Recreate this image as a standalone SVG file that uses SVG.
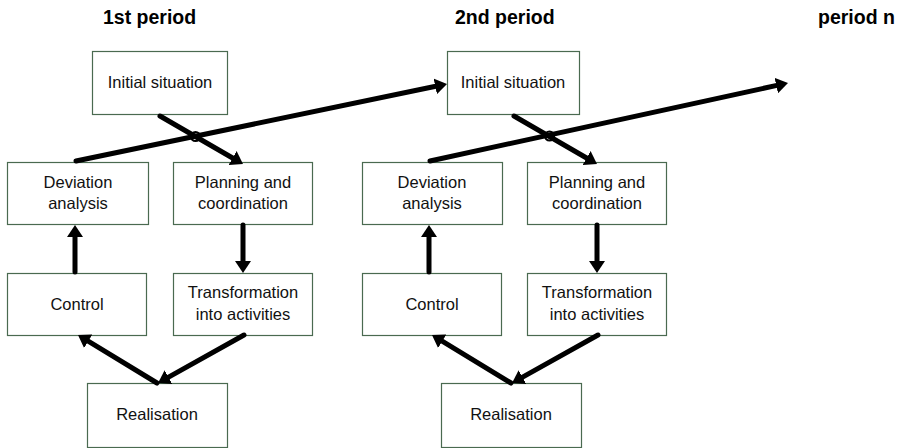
<svg xmlns="http://www.w3.org/2000/svg" width="903" height="448" viewBox="0 0 903 448">
<style>
.box{fill:#ffffff;stroke:#4a6a50;stroke-width:1.2}
.t{font-family:"Liberation Sans",Arial,sans-serif;font-size:16.5px;fill:#111;text-anchor:middle}
.h{font-family:"Liberation Sans",Arial,sans-serif;font-size:19.5px;font-weight:bold;fill:#000}
.a{stroke:#000;stroke-width:5;fill:none;stroke-linecap:round;marker-end:url(#ah)}
.j{stroke:#000;stroke-width:2.2;fill:none}
</style>
<defs>
<marker id="ah" markerUnits="userSpaceOnUse" markerWidth="12" markerHeight="16" refX="3" refY="8" orient="auto" viewBox="0 0 12 16">
<path d="M0,0 L12,8 L0,16 Z" fill="#000"/>
</marker>
</defs>
<rect width="903" height="448" fill="#fff"/>
<g id="titles">
<text class="h" x="103" y="24">1st period</text>
<text class="h" x="455" y="24">2nd period</text>
<text class="h" x="818" y="24">period n</text>
</g>
<g id="p1-initial"><rect class="box" x="92.5" y="51.5" width="135" height="63"/><text class="t" x="160" y="88">Initial situation</text></g>
<g id="p1-deviation"><rect class="box" x="7.5" y="162.5" width="141" height="62"/><text class="t" x="78" y="188">Deviation</text><text class="t" x="78" y="209">analysis</text></g>
<g id="p1-planning"><rect class="box" x="173.5" y="162.5" width="139" height="62"/><text class="t" x="243" y="188">Planning and</text><text class="t" x="243" y="209">coordination</text></g>
<g id="p1-control"><rect class="box" x="7.5" y="273.5" width="139" height="62"/><text class="t" x="77" y="310">Control</text></g>
<g id="p1-transformation"><rect class="box" x="173.5" y="273.5" width="139" height="62"/><text class="t" x="243" y="298">Transformation</text><text class="t" x="243" y="320">into activities</text></g>
<g id="p1-realisation"><rect class="box" x="87.5" y="383.5" width="140" height="64"/><text class="t" x="157" y="420">Realisation</text></g>
<g id="p2-initial"><rect class="box" x="447.5" y="51.5" width="132" height="63"/><text class="t" x="513" y="88">Initial situation</text></g>
<g id="p2-deviation"><rect class="box" x="362.5" y="162.5" width="140" height="62"/><text class="t" x="432" y="188">Deviation</text><text class="t" x="432" y="209">analysis</text></g>
<g id="p2-planning"><rect class="box" x="527.5" y="162.5" width="139" height="62"/><text class="t" x="597" y="188">Planning and</text><text class="t" x="597" y="209">coordination</text></g>
<g id="p2-control"><rect class="box" x="362.5" y="273.5" width="139" height="62"/><text class="t" x="432" y="310">Control</text></g>
<g id="p2-transformation"><rect class="box" x="527.5" y="273.5" width="139" height="62"/><text class="t" x="597" y="298">Transformation</text><text class="t" x="597" y="320">into activities</text></g>
<g id="p2-realisation"><rect class="box" x="441.5" y="383.5" width="140" height="64"/><text class="t" x="511" y="420">Realisation</text></g>
<g id="connectors">
<line class="a" x1="160" y1="116" x2="235.2" y2="159.5"/>
<line class="a" x1="76" y1="161" x2="438.2" y2="85.8"/>
<circle class="j" cx="195.5" cy="136.5" r="4.5"/>
<line class="a" x1="75" y1="272" x2="75" y2="234"/>
<line class="a" x1="243" y1="225" x2="243" y2="264"/>
<line class="a" x1="244" y1="335" x2="165.9" y2="378.6"/>
<line class="a" x1="157" y1="383" x2="85.7" y2="339.7"/>
<line class="a" x1="514" y1="116" x2="589.2" y2="159.5"/>
<line class="a" x1="430" y1="161" x2="779.2" y2="84.9"/>
<circle class="j" cx="549.5" cy="136" r="4.5"/>
<line class="a" x1="429" y1="272" x2="429" y2="234"/>
<line class="a" x1="597" y1="225" x2="597" y2="264"/>
<line class="a" x1="598" y1="335" x2="519.9" y2="378.6"/>
<line class="a" x1="511" y1="383" x2="439.7" y2="339.7"/>
</g>
</svg>
